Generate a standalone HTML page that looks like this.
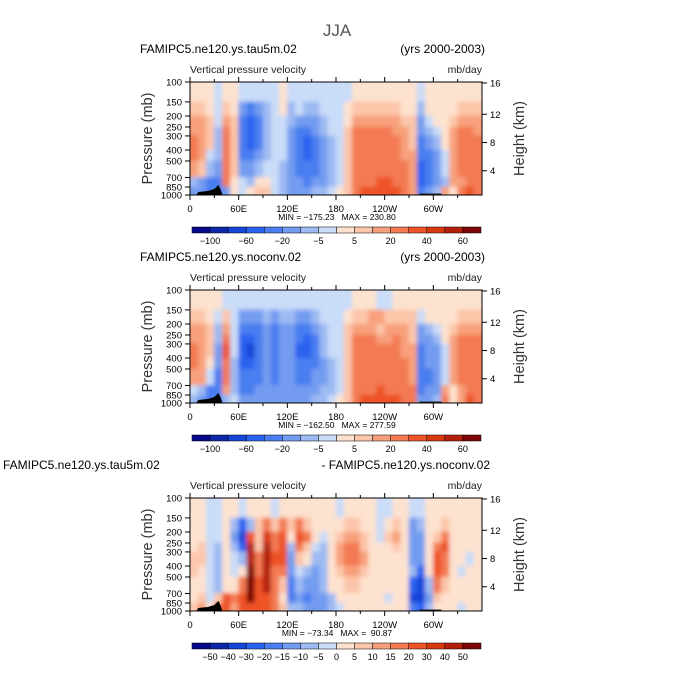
<!DOCTYPE html>
<html><head><meta charset="utf-8"><style>
body{margin:0;background:#fff;}
svg{display:block;font-family:"Liberation Sans",sans-serif;}
</style></head><body>
<svg id="chart" width="673" height="673" viewBox="0 0 673 673">
<defs>
<filter id="bl" filterUnits="userSpaceOnUse" x="150" y="0" width="380" height="673"><feGaussianBlur stdDeviation="2.2"/></filter>
</defs>
<text x="337" y="36" text-anchor="middle" font-size="17" fill="#555">JJA</text>
</svg>
<script>
const lonCenters = [0,10,20,30,40,50,60,70,80,90,100,110,120,130,140,150,160,170,180,190,200,210,220,230,240,250,260,270,280,290,300,310,320,330,340,350];
const pressureEdges = [100,150,200,250,300,400,500,700,850,1000];
const fullLevels = [-100,-80,-60,-40,-20,-10,-5,0,5,10,20,30,40,50,60];
const diffLevels = [-50,-40,-30,-20,-15,-10,-5,0,5,10,15,20,30,40,50];
const fullTickLabels = ["-100","-60","-20","-5","5","20","40","60"];
const diffTickLabels = ["-50","-40","-30","-20","-15","-10","-5","0","5","10","15","20","30","40","50"];
const pressureTicks = [100,150,200,250,300,400,500,700,850,1000];
const heightTicks = [16,12,8,4];
const heightTickPressure = [102,193,343,610];
const lonTickLabels = ["0","60E","120E","180","120W","60W"];
const lonTicks = [0,60,120,180,240,300];
const colors = ["#08088a","#0c2aa8","#1446d8","#2a62f0","#4a7ef0","#739cf0","#9dbaf3","#c9dcf8","#fde2cf","#fcc6aa","#f8a07c","#f37a52","#ee5228","#d8390f","#b2200b","#7e0606"];

const panel1Values = [
[3,3,3,-3,3,3,-3,-5,-5,-3,-3,3,-3,-3,-3,-3,-3,-3,-3,-3,3,3,3,3,3,3,3,3,-3,3,3,3,3,3,3,3],
[7,7,3,-3,7,3,-20,-40,-20,-7,-3,3,-7,-3,-7,-7,-3,-3,-3,3,7,7,7,7,7,7,3,3,-7,3,3,3,3,7,7,7],
[15,15,7,-3,15,7,-30,-50,-30,-7,-3,-3,-7,-15,-15,-15,-7,-3,-3,3,15,15,15,15,15,15,7,7,-15,-3,3,3,7,15,15,15],
[15,15,7,-7,25,7,-40,-60,-30,-7,-3,-3,-15,-30,-30,-15,-7,-3,-3,7,25,25,25,25,25,15,15,7,-20,-7,-3,3,15,25,25,15],
[25,15,7,-7,25,7,-40,-50,-30,-7,-3,-3,-15,-30,-50,-30,-15,-7,-3,7,25,25,25,25,25,25,15,7,-30,-15,-7,3,15,25,25,25],
[25,15,-3,-7,25,7,-30,-30,-15,-7,-3,-3,-15,-40,-60,-30,-15,-7,-3,7,25,25,25,25,25,25,15,15,-40,-30,-15,-3,15,25,25,25],
[15,7,-7,-15,25,7,-15,-15,-7,-3,-3,-7,-15,-30,-40,-30,-15,-7,-3,7,25,25,25,25,25,25,25,15,-60,-30,-15,-3,15,25,25,25],
[-7,-15,-30,-30,25,3,-3,-7,3,3,-3,-7,-15,-20,-30,-15,-15,-7,-3,7,25,25,25,35,35,25,25,15,-60,-40,-20,-7,15,15,25,25],
[-15,-20,-30,-30,-15,3,-3,3,7,7,-3,-7,-15,-15,-15,-7,-7,-3,3,7,25,35,35,35,35,35,25,15,-40,-20,-7,15,3,25,35,25]];

const panel2Values = [
[3,3,3,3,-3,-3,-3,-3,-3,-3,-3,-3,-3,-3,-3,-3,-3,-3,-3,-3,3,3,3,-3,-3,3,3,3,3,3,3,3,3,3,3,3],
[7,7,3,-3,7,-3,-15,-20,-20,-7,-15,-7,-7,-15,-15,-7,-3,-3,-3,3,7,7,15,15,7,7,7,7,-3,3,3,3,3,7,7,7],
[15,15,7,-7,15,-3,-40,-40,-30,-15,-30,-15,-15,-40,-40,-20,-7,-3,-3,7,15,15,15,7,15,15,15,7,-15,-7,-3,3,7,15,15,15],
[15,15,7,-7,25,-3,-60,-60,-40,-20,-40,-20,-15,-40,-60,-30,-7,-3,-3,7,20,25,25,15,15,25,15,7,-20,-15,-7,3,15,20,25,20],
[25,15,7,-15,35,-3,-60,-80,-40,-20,-40,-20,-15,-60,-60,-30,-7,-3,-3,7,25,25,25,25,25,25,15,15,-30,-20,-15,-3,15,25,25,25],
[25,15,3,-15,25,-7,-60,-60,-40,-20,-40,-20,-15,-40,-40,-30,-15,-7,-3,7,25,25,25,25,25,25,25,15,-30,-20,-20,-3,15,25,25,25],
[15,15,-3,-30,25,-7,-40,-40,-30,-20,-30,-20,-15,-30,-30,-20,-15,-7,-3,7,25,25,25,25,25,25,25,15,-30,-30,-15,-3,15,25,25,20],
[-3,-7,-30,-40,15,-7,-30,-30,-20,-15,-20,-15,-15,-20,-20,-15,-7,-7,-3,7,25,25,25,35,25,25,25,20,-30,-20,-15,15,3,15,25,20],
[-7,-15,-30,-30,-7,-3,-15,-15,-15,-15,-15,-15,-15,-15,-15,-7,-7,-3,3,7,25,35,35,35,35,35,25,20,-20,-15,-7,25,3,15,35,25]];

const panel3Values = [
[3,3,-3,-3,3,3,-3,3,3,3,-3,3,3,3,3,3,3,3,-3,3,3,3,3,-3,-3,3,3,-3,-3,3,3,3,3,3,3,3],
[3,3,-3,-3,3,-7,-30,-7,7,15,7,15,7,15,7,3,3,3,3,7,7,3,3,-3,3,7,3,-15,-7,3,3,7,3,3,3,3],
[3,3,-3,-3,3,-15,-40,25,7,30,15,20,3,20,15,3,-3,3,7,12,12,7,3,-3,7,12,3,-15,-15,3,7,15,3,3,3,3],
[3,7,-3,-7,3,-7,-30,40,7,40,15,20,-7,15,7,-3,-7,3,12,17,17,7,3,3,3,7,3,-15,-15,3,15,20,3,3,3,3],
[7,7,-3,-7,3,-3,-7,45,15,45,20,25,-15,7,3,-7,-7,3,12,17,17,12,3,3,3,3,3,-15,-15,3,25,15,3,3,-3,3],
[7,3,-3,-7,3,-3,3,55,15,45,15,15,-15,-3,-7,-15,-7,3,7,12,12,7,3,3,3,3,3,-7,-30,3,25,15,3,-3,3,3],
[3,3,-3,-7,3,3,15,55,20,45,15,7,-20,-7,-15,-15,-7,3,3,7,7,3,3,3,3,3,3,-30,-40,-7,17,7,3,3,3,3],
[3,7,-3,7,20,15,25,55,20,25,15,3,-20,-15,-20,-15,-15,-7,3,3,3,3,3,3,-3,3,3,-40,-40,-15,7,3,3,3,3,3],
[7,12,3,15,20,12,20,25,20,20,17,7,-7,-7,-15,-15,-15,-7,-3,3,3,3,3,3,3,3,3,-20,-30,-7,3,3,3,-3,3,3]];

const NS = "http://www.w3.org/2000/svg";
const svg = document.getElementById("chart");
const X0 = 190, X1 = 482, H = 113;
function xScale(lon){ return X0 + lon/360*(X1-X0); }
function yScale(p, top){ return top + Math.log10(p/100)*H; }
function colorFor(v, levels){ let k=0; for(const l of levels){ if(v>=l) k++; } return colors[k]; }
function mk(tag, attrs, parent){ const e=document.createElementNS(NS,tag); for(const k in attrs) e.setAttribute(k,attrs[k]); (parent||svg).appendChild(e); return e; }
function txt(x,y,s,size,anchor,parent,extra){ const t=mk("text",Object.assign({x:x,y:y,"font-size":size,"text-anchor":anchor||"start",fill:"#000"},extra||{}),parent); t.textContent=s; return t; }

function drawPanel(idx, top, values, levels, tickLabels, everyBoundary, leftTitle, leftX, rightTitle, minmax){
  const g = mk("g",{});
  
  
  const lt = txt(leftX, top-29, leftTitle, 12, "start", g);
  
  
  const rt = txt(idx===3?490:485, top-29, rightTitle, 12, "end", g);
  
  
  const vt = txt(X0, top-9, "Vertical pressure velocity", 10.5, "start", g, {fill:"#222"});
  
  
  const ut = txt(X1, top-9, "mb/day", 10.5, "end", g, {fill:"#222"});
  
  
  const cpId = "cp"+idx;
  const cp = mk("clipPath",{id:cpId},g);
  mk("rect",{x:X0,y:top,width:X1-X0,height:H},cp);
  const clipG = mk("g",{"clip-path":"url(#"+cpId+")"},g);
  const field = mk("g",{filter:"url(#bl)"},clipG);
  
  
  for(let r=0;r<values.length;r++){
    const y0 = yScale(pressureEdges[r], top), y1 = yScale(pressureEdges[r+1], top);
    for(let c=0;c<lonCenters.length;c++){
      const xa = xScale(lonCenters[c]), xb = xScale(lonCenters[c]+10);
      const ya = r===0 ? y0-6 : y0-0.3;
      const yb = r===values.length-1 ? y1+6 : y1+0.3;
      const xl = c===0 ? xa-6 : xa-0.3;
      const xr = c===lonCenters.length-1 ? xb+6 : xb+0.3;
      const rc = mk("rect",{x:xl,y:ya,width:xr-xl,height:yb-ya,fill:colorFor(values[r][c],levels)},field);
      
      
    }
  }
  const by = top+H;
  const t1 = mk("polygon",{points:`${xScale(8)},${by} ${xScale(10)},${by-3} ${xScale(22)},${by-4} ${xScale(30)},${by-6} ${xScale(35)},${by-10} ${xScale(38)},${by-5} ${xScale(40)},${by}`,fill:"#000"},clipG);
  
  
  const t2 = mk("rect",{x:xScale(283),y:by-1.5,width:xScale(310)-xScale(283),height:1.5,fill:"#222"},clipG);
  
  
  const frame = mk("rect",{x:X0,y:top,width:X1-X0,height:H,fill:"none",stroke:"#000","stroke-width":1},g);
  
  
  lonTicks.forEach((lon,i)=>{
    const x=xScale(lon);
    mk("line",{x1:x,y1:top,x2:x,y2:top-5,stroke:"#000"},g);
    mk("line",{x1:x,y1:top+H,x2:x,y2:top+H+5,stroke:"#000"},g);
    const l = txt(x, top+H+17, lonTickLabels[i], 9.5, "middle", g);
    
    
  });
  for(let lon=30;lon<360;lon+=60){ const x=xScale(lon); mk("line",{x1:x,y1:top+H,x2:x,y2:top+H+3,stroke:"#000"},g); mk("line",{x1:x,y1:top,x2:x,y2:top-3,stroke:"#000"},g); }
  pressureTicks.forEach(p=>{
    const y=yScale(p,top);
    mk("line",{x1:X0,y1:y,x2:X0-5,y2:y,stroke:"#000"},g);
    const l = txt(X0-8, y+3.5, String(p), 9.5, "end", g);
    
    
  });
  heightTicks.forEach((h,i)=>{
    const y=yScale(heightTickPressure[i],top);
    mk("line",{x1:X1,y1:y,x2:X1+5,y2:y,stroke:"#000"},g);
    const l = txt(X1+8, y+3.5, String(h), 9.5, "start", g);
    
    
  });
  const ya = txt(0,0,"Pressure (mb)",14.5,"middle",g,{transform:`translate(152,${top+H/2}) rotate(-90)`,fill:"#333"});
  
  
  const yb = txt(0,0,"Height (km)",14.5,"middle",g,{transform:`translate(524,${top+H/2}) rotate(-90)`,fill:"#333"});
  
  
  const mm = txt(337, top+H+25, minmax, 8.5, "middle", g, {"xml:space":"preserve"});
  
  
  const cy = top+H+32, cw=(481-192)/16;
  const cb = mk("g",{},g);
  
  
  colors.forEach((c,i)=>{
    const r = mk("rect",{x:192+i*cw,y:cy,width:cw,height:6,fill:c,stroke:"#000","stroke-width":0.5},cb);
    
    
  });
  levels.forEach((lv,k)=>{
    let label=null;
    if(everyBoundary) label = tickLabels[k];
    else if(k%2===0) label = tickLabels[k/2];
    if(label===null||label===undefined) return;
    const l = txt(192+(k+1)*cw, cy+17, label.replace("-","\u2212"), 9, "middle", cb);
    
    
  });
}
drawPanel(1, 82, panel1Values, fullLevels, fullTickLabels, false, "FAMIPC5.ne120.ys.tau5m.02", 140, "(yrs 2000-2003)", "MIN = \u2212175.23\u00a0\u00a0\u00a0MAX = 230.80");
drawPanel(2, 290, panel2Values, fullLevels, fullTickLabels, false, "FAMIPC5.ne120.ys.noconv.02", 140, "(yrs 2000-2003)", "MIN = \u2212162.50\u00a0\u00a0\u00a0MAX = 277.59");
drawPanel(3, 498, panel3Values, diffLevels, diffTickLabels, true, "FAMIPC5.ne120.ys.tau5m.02", 3, "- FAMIPC5.ne120.ys.noconv.02", "MIN = \u221273.34\u00a0\u00a0\u00a0MAX =\u00a0\u00a090.87");
</script>
</body></html>
